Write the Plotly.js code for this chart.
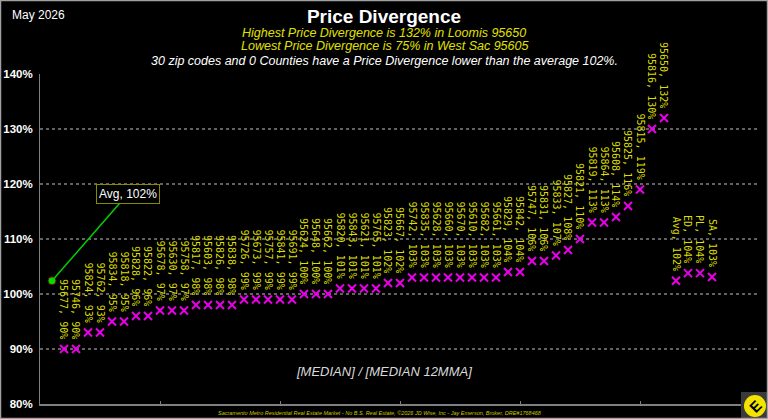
<!DOCTYPE html>
<html><head><meta charset="utf-8">
<script src="https://cdn.plot.ly/plotly-3.0.1.min.js"></script>
<style>html,body{margin:0;padding:0;background:#000;}#chart{width:768px;height:419px;}</style>
</head><body><div id="chart"></div>
<script>
const zipCodes = ['95677','95746','95824','95762','95834','95818','95828','95822','95678','95630','95758',
  '95817','95603','95826','95838','95726','95673','95757','95841','95691','95624','95648','95662',
  '95820','95843','95621','95765','95823','95667','95742','95835','95628','95660','95670','95610',
  '95682','95661','95829','95842','95747','95831','95833','95827','95821','95819','95864','95608',
  '95825','95815','95816','95650'];
const zipValues = [90,90,93,93,95,95,96,96,97,97,97,
  98,98,98,98,99,99,99,99,99,100,100,100,
  101,101,101,101,102,102,103,103,103,103,103,103,
  103,103,104,104,106,106,107,108,110,113,113,114,
  116,119,130,132];
const countyLabels = ['Avg','ED','PL','SA'];
const countyValues = [102.4,103.8,103.8,103.1];
const averageValue = 102.4;
const yTickValues = [80,90,100,110,120,130,140];
const yTickLabels = ['80%','90%','100%','110%','120%','130%','140%'];

const startIndex = 2;
const allLabels = zipCodes.concat(countyLabels);
const allValues = zipValues.concat(countyValues);
const allX = allLabels.map((_, i) => i + startIndex);

const W = 768, H = 419, mL = 40, mR = 8, mT = 74, mB = 15;
const pw = W - mL - mR, ph = H - mT - mB;
const px = x => (x - mL) / pw;
const py = y => (H - mB - y) / ph;

const traces = [
  {x: allX, y: allValues, type: 'scatter', mode: 'markers', hoverinfo: 'skip',
   marker: {symbol: 'x-thin', size: 8, color: '#e800e8', line: {width: 2, color: '#e800e8'}}},
  {x: [startIndex - 1], y: [averageValue], type: 'scatter', mode: 'markers', hoverinfo: 'skip',
   marker: {symbol: 'circle', size: 8, color: '#00e000', line: {width: 1, color: '#700000'}}}
];

const annotations = allLabels.map((lab, i) => ({
  x: allX[i], y: allValues[i], xref: 'x', yref: 'y',
  text: lab + ', ' + Math.round(allValues[i]) + '%',
  textangle: 90, showarrow: false, xanchor: 'center', yanchor: 'bottom', yshift: 8,
  font: {family: 'DejaVu Sans Mono', size: 10, color: '#dede00'}
}));

annotations.push({
  x: startIndex - 1, y: averageValue, xref: 'x', yref: 'y',
  text: 'Avg, ' + Math.round(averageValue) + '%', showarrow: true, arrowhead: 0,
  arrowcolor: '#00d000', arrowwidth: 1.5, ax: 76, ay: -87, standoff: 0,
  bordercolor: '#8a8a00', borderwidth: 1, borderpad: 2, bgcolor: '#000',
  font: {family: 'Liberation Sans', size: 12, color: '#ffffff'}
});

const textFont = {family: 'Liberation Sans', size: 12.5, color: '#e0e000', style: 'italic'};
annotations.push(
  {xref: 'paper', yref: 'paper', x: px(10), y: py(15), xanchor: 'left', yanchor: 'middle', showarrow: false,
   text: 'May 2026', font: {family: 'Liberation Sans', size: 12, color: '#ffffff'}},
  {xref: 'paper', yref: 'paper', x: px(384), y: py(33), xanchor: 'center', yanchor: 'middle', showarrow: false,
   text: 'Highest Price Divergence is 132% in Loomis 95650', font: textFont},
  {xref: 'paper', yref: 'paper', x: px(384), y: py(46), xanchor: 'center', yanchor: 'middle', showarrow: false,
   text: 'Lowest Price Divergence is 75% in West Sac 95605', font: textFont},
  {xref: 'paper', yref: 'paper', x: px(384), y: py(61), xanchor: 'center', yanchor: 'middle', showarrow: false,
   text: '30 zip codes and 0 Counties have a Price Divergence lower than the average 102%.',
   font: {family: 'Liberation Sans', size: 12.5, color: '#ffffff', style: 'italic'}},
  {xref: 'paper', yref: 'paper', x: px(384), y: py(371), xanchor: 'center', yanchor: 'middle', showarrow: false,
   text: '[MEDIAN] / [MEDIAN 12MMA]',
   font: {family: 'Liberation Sans', size: 13, color: '#d9d9d9', style: 'italic'}},
  {xref: 'paper', yref: 'paper', x: px(380), y: py(413), xanchor: 'center', yanchor: 'middle', showarrow: false,
   text: 'Sacramento Metro Residential Real Estate Market - No B.S. Real Estate, ©2026 JD Wise, Inc - Jay Emerson, Broker, DRE#1768468',
   font: {family: 'Liberation Sans', size: 5.5, color: '#c8c800', style: 'italic'}},
  {xref: 'paper', yref: 'paper', x: px(755), y: py(406), xanchor: 'center', yanchor: 'middle', showarrow: false,
   text: '<b>E</b>', textangle: -45, font: {family: 'Liberation Sans', size: 15, color: '#000000'}}
);

const shapes = [
  {type: 'rect', xref: 'paper', yref: 'paper', x0: px(741), x1: px(768), y0: py(419), y1: py(392),
   fillcolor: '#3a3a3a', line: {width: 0}},
  {type: 'circle', xref: 'paper', yref: 'paper', x0: px(744), x1: px(766), y0: py(417), y1: py(395),
   fillcolor: '#f2e400', line: {width: 0}},
  {type: 'rect', xref: 'paper', yref: 'paper', x0: px(0.5), x1: px(767.5), y0: py(418.5), y1: py(0.5),
   fillcolor: 'rgba(0,0,0,0)', line: {width: 1.5, color: '#a0a0a0'}}
];

const layout = {
  width: W, height: H, margin: {l: mL, r: mR, t: mT, b: mB},
  paper_bgcolor: '#000000', plot_bgcolor: '#000000', showlegend: false,
  title: {text: 'Price Divergence', xref: 'container', yref: 'container', x: 0.5, y: 1 - 16 / H,
          xanchor: 'center', yanchor: 'middle',
          font: {family: 'Liberation Sans', size: 19, color: '#ffffff', weight: 'bold'}},
  xaxis: {range: [0, 60], showticklabels: false, showgrid: false, zeroline: false,
          showline: true, linecolor: '#7f7f7f', linewidth: 1.5,
          tickmode: 'array', tickvals: [10, 20, 30, 40, 50], ticks: 'inside', ticklen: 3, tickcolor: '#7f7f7f'},
  yaxis: {range: [80, 140], tickmode: 'array', tickvals: yTickValues, ticktext: yTickLabels,
          showgrid: true, gridcolor: '#626262', griddash: 'dot', gridwidth: 1.5, zeroline: false,
          showline: true, linecolor: '#7f7f7f', linewidth: 1, ticks: '', ticklabelstandoff: 4,
          tickfont: {family: 'Liberation Sans', size: 11.5, color: '#ffffff', weight: 'bold'}},
  annotations: annotations, shapes: shapes
};

Plotly.newPlot('chart', traces, layout, {displayModeBar: false, staticPlot: true});
</script>
</body></html>
